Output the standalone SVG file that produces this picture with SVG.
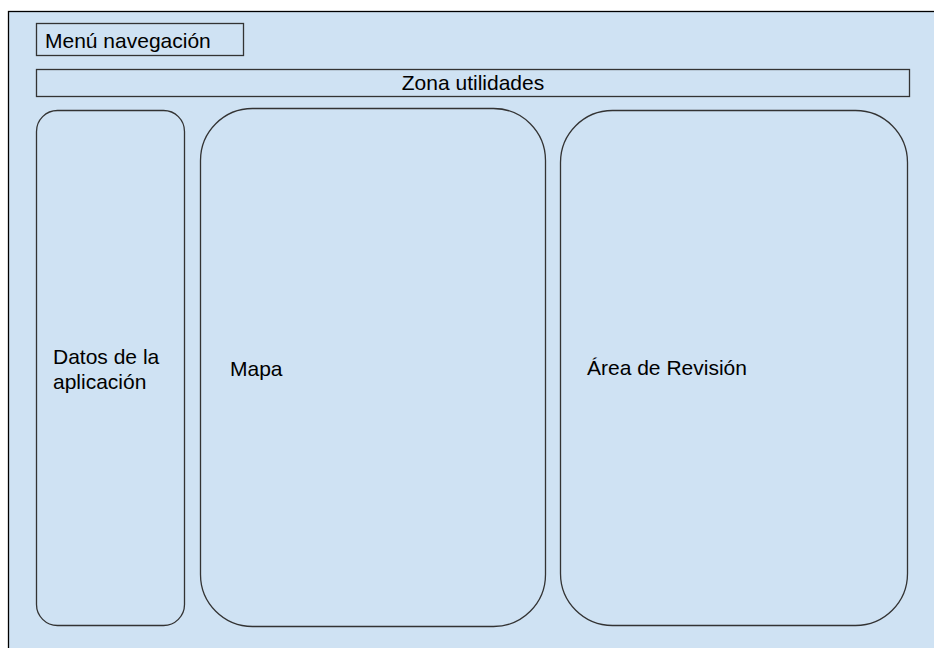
<svg xmlns="http://www.w3.org/2000/svg" width="934" height="648" viewBox="0 0 934 648">
  <style>
    .panel { fill: #cfe2f3; stroke: #333333; stroke-width: 1.3; }
    .frame { fill: #cfe2f3; stroke: #000000; stroke-width: 1.3; }
    .label { font-family: "Liberation Sans", Arial, sans-serif; font-size: 21px; fill: #000000; }
  </style>
  <rect width="934" height="648" fill="#ffffff"/>
  <!-- page frame -->
  <g id="page">
    <rect class="frame" x="8.5" y="11.5" width="940" height="650"/>
  </g>
  <g id="menu">
    <rect class="panel" x="36.5" y="23.5" width="207" height="32"/>
    <text class="label" x="45" y="48">Menú navegación</text>
  </g>
  <g id="utilidades">
    <rect class="panel" x="36.5" y="69.5" width="873" height="27"/>
    <text class="label" x="473" y="90" text-anchor="middle">Zona utilidades</text>
  </g>
  <g id="datos">
    <rect class="panel" x="36.5" y="110.5" width="148" height="515" rx="21" ry="21"/>
    <text class="label" x="53" y="364">Datos de la</text>
    <text class="label" x="53" y="389">aplicación</text>
  </g>
  <g id="mapa">
    <rect class="panel" x="200.5" y="108.5" width="345" height="518" rx="52" ry="52"/>
    <text class="label" x="230" y="376">Mapa</text>
  </g>
  <g id="revision">
    <rect class="panel" x="560.5" y="110.5" width="347" height="515" rx="52" ry="52"/>
    <text class="label" x="587" y="375">Área de Revisión</text>
  </g>
  <g id="connectors"/>
</svg>
